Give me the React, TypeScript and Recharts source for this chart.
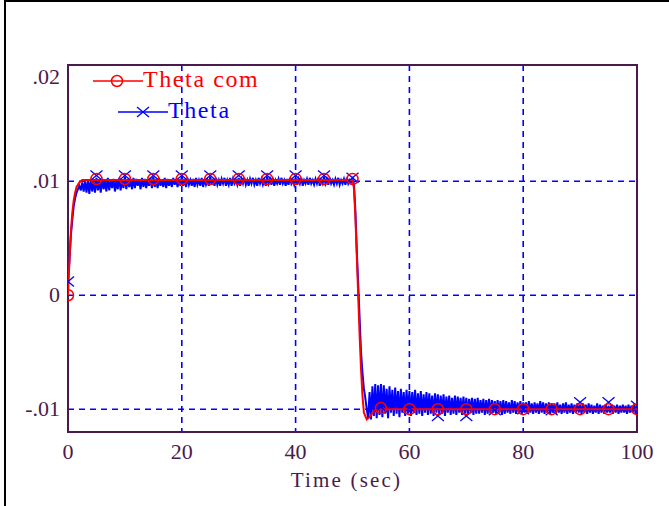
import React from "react";
import {
  ComposedChart,
  Line,
  Scatter,
  XAxis,
  YAxis,
  CartesianGrid,
  ReferenceArea,
  Legend,
} from "recharts";

// ---- data ----
const seriesNames = ["Theta com", "Theta"];

// Theta (measured), sampled every 0.25 s from t = 0 to t = 100
const thetaSampleStep = 0.25;
const theta = [
  .0012, .0030, .0052, .0066, .0078, .0085, .0090, .0093, .0096, .0092, .0099, .0091, .0100,
  .0090, .0101, .0089, .0102, .0091, .0100, .0090, .0103,
  .0092, .0101, .0090, .0102, .0093, .0100, .0091, .0103, .0092, .0101, .0094, .0102, .0091, .0100, .0093, .0103, .0092, .0101, .0094, .0104,
  .0093, .0102, .0095, .0101, .0093, .0103, .0094, .0102, .0096, .0101, .0093, .0103, .0095, .0102, .0094, .0101, .0096, .0103, .0094, .0104,
  .0095, .0102, .0094, .0103, .0096, .0101, .0095, .0103, .0094, .0102, .0096, .0101, .0095, .0103, .0097, .0102, .0095, .0101, .0096, .0104,
  .0096, .0102, .0095, .0103, .0097, .0101, .0096, .0102, .0095, .0103, .0097, .0101, .0096, .0103, .0095, .0102, .0097, .0101, .0096, .0104,
  .0097, .0102, .0096, .0103, .0097, .0101, .0096, .0102, .0098, .0103, .0096, .0101, .0097, .0103, .0096, .0102, .0098, .0101, .0097, .0103,
  .0096, .0102, .0098, .0103, .0097, .0101, .0096, .0102, .0098, .0103, .0097, .0101, .0096, .0103, .0098, .0102, .0097, .0101, .0096, .0104,
  .0098, .0102, .0097, .0103, .0096, .0101, .0098, .0102, .0097, .0103, .0098, .0101, .0096, .0102, .0097, .0103, .0098, .0101, .0097, .0103,
  .0097, .0102, .0098, .0103, .0096, .0101, .0098, .0102, .0097, .0103, .0098, .0101, .0097, .0102, .0098, .0103, .0096, .0101, .0098, .0104,
  .0098, .0102, .0097, .0103, .0098, .0101, .0097, .0102, .0098, .0103, .0097, .0101, .0098, .0102, .0097, .0103, .0098, .0101, .0099, .0102,
  .0098, .0075, .0040, .0010, -.0020, -.0050, -.0068, -.0082, -.0090, -.0100, -.0108, -.0085, -.0109, -.0080, -.0106, -.0078, -.0108, -.0079, -.0105, -.0078,
  -.0107, -.0079, -.0104, -.0082, -.0108, -.0080, -.0103, -.0083, -.0106, -.0081, -.0104, -.0084, -.0107, -.0082, -.0103, -.0085, -.0106, -.0083, -.0104, -.0084,
  -.0106, -.0085, -.0103, -.0083, -.0105, -.0086, -.0104, -.0084, -.0106, -.0087, -.0103, -.0085, -.0105, -.0086, -.0104, -.0088, -.0106, -.0086, -.0103, -.0087,
  -.0105, -.0088, -.0104, -.0087, -.0106, -.0089, -.0103, -.0088, -.0105, -.0090, -.0104, -.0088, -.0105, -.0089, -.0103, -.0090, -.0105, -.0089, -.0104, -.0090,
  -.0105, -.0091, -.0103, -.0090, -.0105, -.0091, -.0104, -.0090, -.0104, -.0092, -.0103, -.0091, -.0105, -.0092, -.0104, -.0091, -.0104, -.0092, -.0103, -.0093,
  -.0104, -.0092, -.0103, -.0093, -.0105, -.0092, -.0104, -.0093, -.0103, -.0094, -.0104, -.0092, -.0103, -.0093, -.0104, -.0094, -.0103, -.0093, -.0104, -.0094,
  -.0103, -.0094, -.0104, -.0093, -.0103, -.0095, -.0104, -.0094, -.0103, -.0095, -.0104, -.0093, -.0103, -.0094, -.0104, -.0095, -.0103, -.0094, -.0104, -.0095,
  -.0103, -.0095, -.0104, -.0094, -.0103, -.0096, -.0104, -.0095, -.0103, -.0094, -.0104, -.0096, -.0103, -.0095, -.0104, -.0096, -.0103, -.0095, -.0103, -.0096,
  -.0104, -.0095, -.0103, -.0096, -.0104, -.0095, -.0103, -.0096, -.0104, -.0097, -.0103, -.0095, -.0104, -.0096, -.0103, -.0097, -.0104, -.0096, -.0103, -.0097,
  -.0103, -.0096, -.0104, -.0097, -.0103, -.0096, -.0104, -.0097, -.0103, -.0096, -.0103, -.0097, -.0104, -.0096, -.0103, -.0097, -.0103, -.0096, -.0104, -.0098,
];

// Theta com (command), breakpoints
const thetaComTime = [0, 0.25, 0.5, 0.75, 1, 1.25, 1.5, 2, 2.5, 3, 50, 50.25, 50.5, 50.75, 51, 51.25, 51.5, 51.75, 52, 52.5, 53, 53.5, 54, 55, 100];
const thetaComValue = [0, .0030, .0055, .0072, .0083, .0090, .0095, .0099, .0101, .0101, .0101, .0094, .0070, .0035, .0000, -.0035, -.0065, -.0088, -.0103, -.0109, -.0107, -.0103, -.0101, -.0100, -.0100];

// marker samples (every 5 s)
const markerTime = [0, 5, 10, 15, 20, 25, 30, 35, 40, 45, 50, 55, 60, 65, 70, 75, 80, 85, 90, 95, 100];
const thetaComMarker = [0, .0102, .0102, .0102, .0102, .0102, .0102, .0102, .0102, .0102, .0102, -.0099, -.0100, -.0100, -.0100, -.0100, -.0100, -.0100, -.0100, -.0100, -.0100];
const thetaMarker = [.0012, .0105, .0105, .0105, .0105, .0105, .0105, .0105, .0105, .0105, .0103, -.0098, -.0099, -.0106, -.0106, -.0101, -.0100, -.0101, -.0094, -.0094, -.0097];

const xTicks = [0, 20, 40, 60, 80, 100];
const xTickLabels = ["0", "20", "40", "60", "80", "100"];
const yTicks = [-0.01, 0, 0.01, 0.02];
const yTickLabels = ["-.01", "0", ".01", ".02"];
const xGrid = [20, 40, 60, 80];
const yGrid = [-0.01, 0, 0.01];

const thetaData = theta.map((v, i) => ({ t: i * thetaSampleStep, v }));
const thetaComData = thetaComTime.map((t, i) => ({ t, v: thetaComValue[i] }));
const thetaComMarkerData = markerTime.map((t, i) => ({ t, v: thetaComMarker[i] }));
const thetaMarkerData = markerTime.map((t, i) => ({ t, v: thetaMarker[i] }));

// ---- styles ----
const PURPLE = "#4a1a4d";
const RED = "#ff0000";
const BLUE = "#0000ff";
const FONT = "'Liberation Serif', 'Times New Roman', serif";

const XTick = (props: any) => {
  const { x, y, payload } = props;
  const idx = xTicks.indexOf(payload.value);
  return (
    <text x={x} y={y} dy={7} textAnchor="middle" fill={PURPLE} fontFamily={FONT} fontSize={22}>
      {idx >= 0 ? xTickLabels[idx] : String(payload.value)}
    </text>
  );
};

const YTick = (props: any) => {
  const { x, y, payload } = props;
  const idx = yTicks.findIndex((v) => Math.abs(v - payload.value) < 1e-9);
  const shift = Math.abs(payload.value - 0.02) < 1e-9 ? 10 : 0;
  return (
    <text x={x} y={y + shift} dy={7} textAnchor="end" fill={PURPLE} fontFamily={FONT} fontSize={22}>
      {idx >= 0 ? yTickLabels[idx] : String(payload.value)}
    </text>
  );
};

const CircleMarker = (props: any) => {
  const { cx, cy } = props;
  if (cx == null || cy == null) return null;
  return <circle cx={cx} cy={cy} r={5.5} fill="none" stroke={RED} strokeWidth={1.5} />;
};

const CrossMarker = (props: any) => {
  const { cx, cy } = props;
  if (cx == null || cy == null) return null;
  return (
    <g stroke={BLUE} strokeWidth={1.3}>
      <line x1={cx - 6} y1={cy - 5} x2={cx + 6} y2={cy + 5} />
      <line x1={cx - 6} y1={cy + 5} x2={cx + 6} y2={cy - 5} />
    </g>
  );
};

const renderLegend = () => (
  <svg width={300} height={130} style={{ display: "block" }}>
    <line x1={93} y1={81} x2={143} y2={81} stroke={RED} strokeWidth={1.5} />
    <circle cx={117} cy={81} r={5.5} fill="none" stroke={RED} strokeWidth={1.5} />
    <text x={143} y={87} fill={RED} fontFamily={FONT} fontSize={24} letterSpacing={1.6}>
      {seriesNames[0]}
    </text>
    <line x1={118} y1={112} x2={168} y2={112} stroke={BLUE} strokeWidth={1.5} />
    <line x1={137} y1={107} x2={149} y2={117} stroke={BLUE} strokeWidth={1.3} />
    <line x1={137} y1={117} x2={149} y2={107} stroke={BLUE} strokeWidth={1.3} />
    <text x={168} y={118} fill={BLUE} fontFamily={FONT} fontSize={24} letterSpacing={1.6}>
      {seriesNames[1]}
    </text>
  </svg>
);

const TitleLabel = (props: any) => {
  const vb = props.viewBox || {};
  const cx = (vb.x ?? 68) + (vb.width ?? 569) / 2 - 6;
  return (
    <text x={cx} y={487} textAnchor="middle" fill={PURPLE} fontFamily={FONT} fontSize={21} letterSpacing={2.2}>
      Time (sec)
    </text>
  );
};

export default function App() {
  return (
    <div
      style={{
        position: "absolute",
        left: 0,
        top: 0,
        width: 669,
        height: 506,
        background: "#ffffff",
        overflow: "hidden",
      }}
    >
      <div style={{ position: "absolute", left: 4, top: 0, width: 665, height: 2, background: "#000" }} />
      <div style={{ position: "absolute", left: 4, top: 0, width: 2, height: 506, background: "#000" }} />
      <ComposedChart
        width={669}
        height={506}
        margin={{ top: 65, right: 32, bottom: 0, left: 0 }}
      >
        <CartesianGrid
          stroke={BLUE}
          strokeWidth={1.6}
          strokeDasharray="6 5"
          horizontalValues={yGrid}
          verticalValues={xGrid}
        />
        <XAxis
          dataKey="t"
          type="number"
          domain={[0, 100]}
          ticks={xTicks}
          tick={<XTick />}
          tickLine={false}
          tickSize={0}
          tickMargin={20}
          axisLine={false}
          height={74}
          allowDataOverflow
          label={<TitleLabel />}
        />
        <YAxis
          type="number"
          domain={[-0.012, 0.0202]}
          ticks={yTicks}
          tick={<YTick />}
          tickLine={false}
          tickSize={0}
          tickMargin={8}
          axisLine={false}
          width={68}
          allowDataOverflow
        />
        <Line
          data={thetaData}
          dataKey="v"
          name={seriesNames[1]}
          type="linear"
          stroke={BLUE}
          strokeWidth={2}
          dot={false}
          activeDot={false}
          isAnimationActive={false}
        />
        <Line
          data={thetaComData}
          dataKey="v"
          name={seriesNames[0]}
          type="linear"
          stroke={RED}
          strokeWidth={2}
          dot={false}
          activeDot={false}
          isAnimationActive={false}
        />
        <Scatter
          data={thetaMarkerData}
          dataKey="v"
          shape={<CrossMarker />}
          isAnimationActive={false}
        />
        <Scatter
          data={thetaComMarkerData}
          dataKey="v"
          shape={<CircleMarker />}
          isAnimationActive={false}
        />
        <ReferenceArea
          x1={0}
          x2={100}
          y1={-0.012}
          y2={0.0202}
          fill="none"
          stroke={PURPLE}
          strokeWidth={2}
          ifOverflow="visible"
        />
        <Legend
          layout="horizontal"
          align="center"
          verticalAlign="middle"
          content={renderLegend}
          wrapperStyle={{ left: 0, top: 0, width: 300, height: 130 }}
        />
      </ComposedChart>
    </div>
  );
}
